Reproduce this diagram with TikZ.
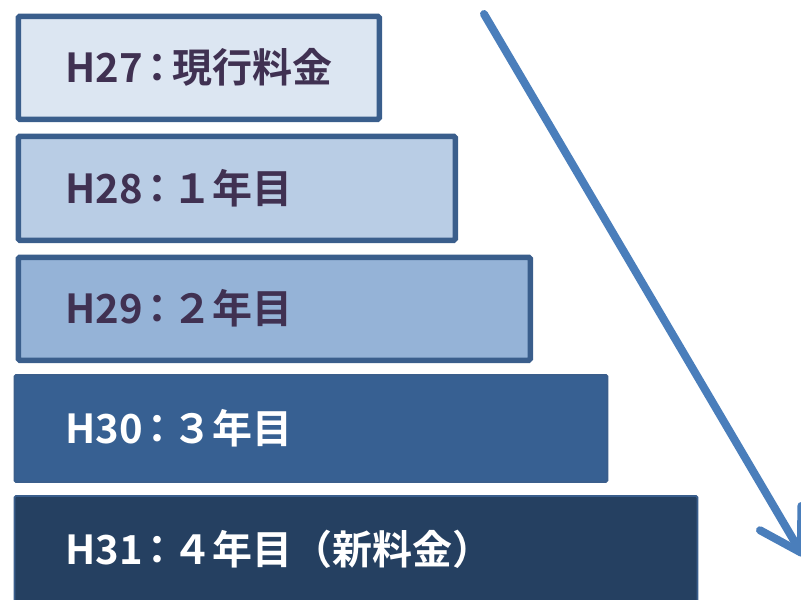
\documentclass[tikz,border=0pt]{standalone}
\usepackage{fontspec}
\newfontfamily\jpfont{Noto Sans CJK JP}[BoldFont={* Bold}]
\usetikzlibrary{arrows.meta}
\definecolor{bfill1}{HTML}{DCE6F2}
\definecolor{bfill2}{HTML}{B9CDE5}
\definecolor{bfill3}{HTML}{95B3D7}
\definecolor{bfill4}{HTML}{376092}
\definecolor{bfill5}{HTML}{254061}
\definecolor{bline}{HTML}{3A5E8C}
\definecolor{txtdark}{HTML}{403152}
\definecolor{arrowblue}{HTML}{4A7EBB}
\tikzset{
  bar/.style={draw=bline, rectangle, rounded corners=1.5pt, inner sep=0pt, anchor=north west},
  thickbar/.style={bar, line width=5.5pt},
  thinbar/.style={bar, line width=1.8pt},
  lbl/.style={anchor=west, inner sep=0pt, font=\jpfont\bfseries\fontsize{40}{40}\selectfont},
  arrowline/.style={draw=arrowblue, line width=8pt, line cap=round,
    -{Straight Barb[length=40pt, width=48pt, round]}}
}
\begin{document}
\begin{tikzpicture}[x=1pt,y=-1pt]
\useasboundingbox (0,0) rectangle (801,600);
\clip (0,0) rectangle (801,600);
\node[thickbar, fill=bfill1, minimum width=361pt, minimum height=103pt] (b1) at (15.5,13.5) {};
\node[thickbar, fill=bfill2, minimum width=437pt, minimum height=104pt] (b2) at (15.5,133.5) {};
\node[thickbar, fill=bfill3, minimum width=512pt, minimum height=103pt] (b3) at (15.5,254.5) {};
\node[thinbar, fill=bfill4, minimum width=593pt, minimum height=107pt] (b4) at (13.5,374) {};
\node[thinbar, fill=bfill5, minimum width=683pt, minimum height=120pt] (b5) at (13.5,495) {};
\node[lbl, text=txtdark] (t1) at (65,67) {H27\kern-5pt：\kern-5pt現行料金};
\node[lbl, text=txtdark] (t2) at (65,188) {H28\kern-5pt：\kern-5pt１年目};
\node[lbl, text=txtdark] (t3) at (65,308) {H29\kern-5pt：\kern-5pt２年目};
\node[lbl, text=white] (t4) at (65,428) {H30\kern-5pt：\kern-5pt３年目};
\node[lbl, text=white] (t5) at (65,549) {H31\kern-5pt：\kern-5pt４年目（新料金）};
\coordinate (a1) at (484,14);
\coordinate (a2) at (803,556);
\draw[arrowline] (a1) -- (a2);
\end{tikzpicture}
\end{document}
